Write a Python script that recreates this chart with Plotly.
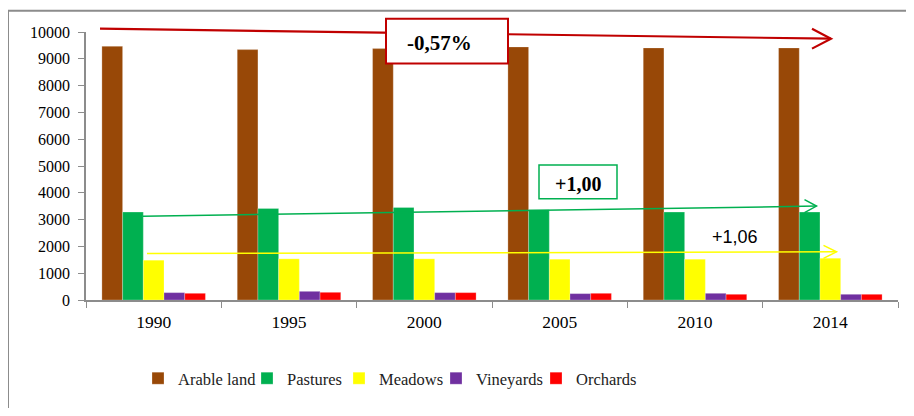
import plotly.graph_objects as go

years = ["1990", "1995", "2000", "2005", "2010", "2014"]
arable = [9466, 9343, 9380, 9443, 9406, 9406]
pastures = [3281, 3416, 3453, 3367, 3281, 3281]
meadows = [1485, 1537, 1537, 1522, 1522, 1559]
vineyards = [275, 323, 275, 238, 250, 213]
orchards = [250, 287, 275, 250, 213, 213]

series = [
    ("Arable land", arable, "#984807"),
    ("Pastures", pastures, "#00B050"),
    ("Meadows", meadows, "#FFFF00"),
    ("Vineyards", vineyards, "#7030A0"),
    ("Orchards", orchards, "#FF0000"),
]
legend_text_x = [180, 289, 381, 478, 578]  # where each legend label starts (page px)

SERIF = "Liberation Serif, Times New Roman, serif"
OFF = 8  # default body margin of the page
W, H = 914 - OFF, 416 - 2 * OFF
L, R, T, B = 86 - OFF, 898 - OFF, 32.3 - OFF, 301.7 - OFF

def px(x):
    return (x - OFF - L) / (R - L)

def py(y):
    return (B - (y - OFF)) / (B - T)

fig = go.Figure()
legends = {}
for i, (name, vals, col) in enumerate(series):
    key = "legend" if i == 0 else f"legend{i+1}"
    fig.add_trace(go.Bar(x=years, y=vals, name=name, legend=key,
                         marker=dict(color=col, line=dict(color="rgba(255,255,255,0.5)", width=0.5))))
    legends[key] = dict(orientation="h", x=px(legend_text_x[i] - 42), xanchor="left",
                        y=py(363), yanchor="top", bgcolor="rgba(0,0,0,0)",
                        font=dict(family=SERIF, size=16.5, color="#222"), itemwidth=30)

shapes = []
annotations = []

# outer border
shapes.append(dict(type="path", xref="paper", yref="paper",
                   path=f"M {px(8)},{py(440)} L {px(8)},{py(11)} L {px(940)},{py(11)}",
                   line=dict(color="#8c8c8c", width=2)))

def arrow(x0, y0, x1, y1, back, half, color, width):
    shapes.append(dict(type="line", xref="paper", yref="paper",
                       x0=px(x0), y0=py(y0), x1=px(x1), y1=py(y1),
                       line=dict(color=color, width=width)))
    shapes.append(dict(type="path", xref="paper", yref="paper",
                       path=f"M {px(x1-back)},{py(y1-half)} L {px(x1)},{py(y1)} L {px(x1-back)},{py(y1+half)}",
                       line=dict(color=color, width=width)))

arrow(100, 29, 831, 39, 19, 10, "#C00000", 2.2)
arrow(143, 217.5, 816.5, 207.3, 12, 6.5, "#00B050", 1.5)
arrow(147, 255, 836.5, 253.3, 13, 6.5, "#FFFF00", 1.5)

def label(x, y, text, font):
    annotations.append(dict(xref="paper", yref="paper", x=px(x), y=py(y), text=text,
                            xanchor="center", yanchor="middle", showarrow=False, font=font))

# boxes
shapes.append(dict(type="rect", xref="paper", yref="paper",
                   x0=px(386), x1=px(508), y0=py(64), y1=py(19),
                   fillcolor="white", line=dict(color="#C00000", width=2)))
label(439, 43, "<b>-0,57%</b>", dict(family=SERIF, size=21, color="black"))
shapes.append(dict(type="rect", xref="paper", yref="paper",
                   x0=px(539), x1=px(617), y0=py(200), y1=py(166),
                   fillcolor="white", line=dict(color="#00B050", width=1.5)))
label(578, 185, "<b>+1,00</b>", dict(family=SERIF, size=20, color="black"))
label(735, 238, "+1,06", dict(family="Liberation Sans, Arial, sans-serif", size=18, color="black"))

fig.update_layout(
    width=W, height=H,
    margin=dict(l=L, r=W - R, t=T, b=H - B, pad=0),
    paper_bgcolor="white", plot_bgcolor="white",
    barmode="group", bargap=0.235, bargroupgap=0,
    font=dict(family=SERIF, color="black"),
    shapes=shapes, annotations=annotations,
    showlegend=True,
    **legends,
)
fig.update_xaxes(type="category", showline=True, linecolor="#8c8c8c", linewidth=1.5,
                 ticks="outside", tickson="boundaries", ticklen=6, tickcolor="#8c8c8c",
                 tickfont=dict(family=SERIF, size=17.5, color="black"), showgrid=False,
                 ticklabelstandoff=5)
fig.update_yaxes(range=[0, 10000], dtick=1000, tickformat="d", showline=True, linecolor="#8c8c8c",
                 linewidth=1.5, ticks="outside", ticklen=6, tickcolor="#8c8c8c", showgrid=False,
                 zeroline=False, tickfont=dict(family=SERIF, size=16, color="black"),
                 ticklabelstandoff=5)

fig.write_html("out.html")
